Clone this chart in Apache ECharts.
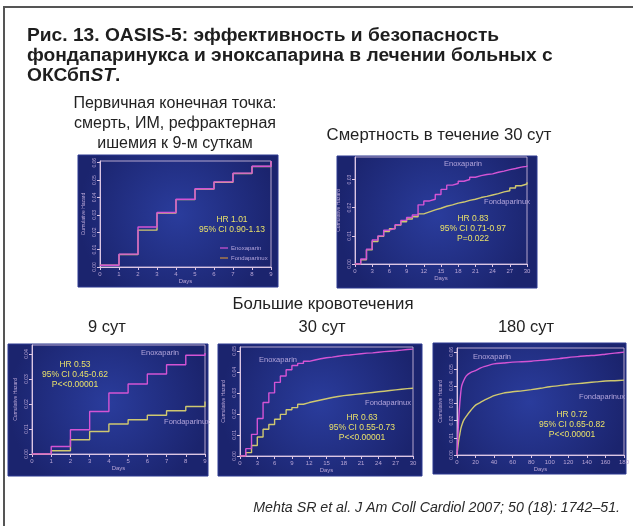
<!DOCTYPE html>
<html><head><meta charset="utf-8">
<script src="https://cdn.jsdelivr.net/npm/echarts@6/dist/echarts.min.js"></script>
<style>html,body{margin:0;padding:0;background:#fff}#c{width:633px;height:526px}</style>
</head><body><div id="c"></div>
<script>
// ---- data ----
const days9 = [0,1,2,3,4,5,6,7,8,9];
const days30 = [0,1,2,3,4,5,6,7,8,9,10,11,12,13,14,15,16,17,18,19,20,21,22,23,24,25,26,27,28,29,30];
const days180 = [0,1,2,3,4,5,7,10,15,20,25,30,40,50,60,70,80,90,100,110,120,130,140,150,160,170,180];

// Primary endpoint, 9 days
const p1Enox  = [0.001,0.0074,0.0230,0.0314,0.0390,0.0450,0.0490,0.0540,0.0580,0.0610];
const p1Fonda = [0.001,0.0072,0.0212,0.0310,0.0388,0.0448,0.0488,0.0538,0.0578,0.0608];
// Mortality, 30 days
const p2Enox  = [0,0.0018,0.0053,0.0085,0.0100,0.0120,0.0127,0.0140,0.0155,0.0165,0.0174,0.0210,0.0224,0.0230,0.0247,0.0265,0.0280,0.0286,0.0294,0.0300,0.0308,0.0314,0.0318,0.0320,0.0326,0.0330,0.0335,0.0339,0.0344,0.0347,0.0350];
const p2Fonda = [0,0.0015,0.0050,0.0080,0.0098,0.0115,0.0125,0.0138,0.0150,0.0160,0.0168,0.0178,0.0185,0.0192,0.0198,0.0205,0.0210,0.0216,0.0220,0.0226,0.0230,0.0236,0.0240,0.0245,0.0250,0.0256,0.0260,0.0270,0.0278,0.0284,0.0290];
// Major bleeding, 9 days
const p3Enox  = [0,0.0030,0.0097,0.0170,0.0244,0.0280,0.0320,0.0357,0.0395,0.0404];
const p3Fonda = [0,0.0013,0.0057,0.0090,0.0120,0.0137,0.0155,0.0173,0.0190,0.0210];
// Major bleeding, 30 days
const p4Enox  = [0,0.0035,0.0103,0.0178,0.0254,0.0300,0.0350,0.0380,0.0410,0.0430,0.0440,0.0450,0.0456,0.0462,0.0467,0.0470,0.0474,0.0478,0.0480,0.0483,0.0486,0.0489,0.0490,0.0493,0.0496,0.0498,0.0500,0.0503,0.0506,0.0508,0.0510];
const p4Fonda = [0,0.0016,0.0050,0.0090,0.0127,0.0150,0.0175,0.0198,0.0220,0.0230,0.0246,0.0254,0.0260,0.0266,0.0272,0.0278,0.0283,0.0287,0.0290,0.0293,0.0296,0.0299,0.0302,0.0305,0.0308,0.0311,0.0314,0.0317,0.0320,0.0322,0.0325];
// Major bleeding, 180 days
const p5Enox  = [0,0.012,0.022,0.030,0.036,0.040,0.043,0.046,0.048,0.049,0.0505,0.0515,0.053,0.0535,0.054,0.0542,0.0545,0.055,0.0555,0.056,0.0567,0.0572,0.0577,0.058,0.0586,0.0592,0.0598];
const p5Fonda = [0,0.005,0.009,0.012,0.015,0.017,0.020,0.0225,0.026,0.029,0.0305,0.032,0.0345,0.036,0.0368,0.0373,0.038,0.0388,0.0397,0.0403,0.041,0.0415,0.042,0.0425,0.043,0.0432,0.0435];

const titleLines = ['Рис. 13. OASIS-5: эффективность и безопасность','фондапаринукса и эноксапарина в лечении больных с'];
const sub1 = ['Первичная конечная точка:','смерть, ИМ, рефрактерная','ишемия к 9-м суткам'];
const sub2 = 'Смертность в течение 30 сут';
const sub3 = 'Большие кровотечения';
const periodLabels = ['9 сут','30 сут','180 сут'];
const citation = 'Mehta SR et al. J Am Coll Cardiol 2007; 50 (18): 1742–51.';
const enoxName = 'Enoxaparin', fondaName = 'Fondaparinux';
const hrTexts = [
  ['HR 1.01','95% CI 0.90-1.13'],
  ['HR 0.83','95% CI 0.71-0.97','P=0.022'],
  ['HR 0.53','95% CI 0.45-0.62','P<<0.00001'],
  ['HR 0.63','95% CI 0.55-0.73','P<<0.00001'],
  ['HR 0.72','95% CI 0.65-0.82','P<<0.00001']
];

// ---- styling ----
const FONT = '"Liberation Sans", Arial, sans-serif';
const ENOX_C = '#d454d4', FONDA_C = '#cfc870';
const AXIS_C = '#dcc6e4', LBL_C = '#b9a6d6', HR_C = '#e8e06a', NAME_C = '#b4a6dc';

const panels = [
  {rect:[78,155,200,132], grid:{left:100,top:161,width:171,height:106}, xMax:9,  xInt:1,  yMax:0.061, yInt:0.01, days:days9,  e:p1Enox, f:p1Fonda, step:'end'},
  {rect:[337,156,200,132], grid:{left:355,top:157,width:172,height:107}, xMax:30, xInt:3,  yMax:0.038, yInt:0.01, days:days30, e:p2Enox, f:p2Fonda, step:'end'},
  {rect:[8,344,200,132],   grid:{left:32,top:345,width:173,height:109},  xMax:9,  xInt:1,  yMax:0.0436,yInt:0.01, days:days9,  e:p3Enox, f:p3Fonda, step:'end'},
  {rect:[218,344,204,132], grid:{left:240,top:347,width:173,height:109}, xMax:30, xInt:3,  yMax:0.0518,yInt:0.01, days:days30, e:p4Enox, f:p4Fonda, step:'end'},
  {rect:[433,343,193,131], grid:{left:457,top:348,width:167,height:107}, xMax:180,xInt:20, yMax:0.0622,yInt:0.01, days:days180,e:p5Enox, f:p5Fonda, step:false}
];

const grids=[], xAxes=[], yAxes=[], series=[], graphics=[];
panels.forEach((p,i)=>{
  grids.push(Object.assign({show:true,borderColor:AXIS_C,borderWidth:0.8,backgroundColor:'transparent'},p.grid));
  xAxes.push({type:'value',gridIndex:i,min:0,max:p.xMax,interval:p.xInt,
    name:'Days',nameLocation:'middle',nameGap:11,nameTextStyle:{color:LBL_C,fontSize:6,fontFamily:FONT},
    axisLine:{show:true,lineStyle:{color:AXIS_C,width:1}},axisTick:{show:true,length:3,lineStyle:{color:AXIS_C}},
    axisLabel:{color:LBL_C,fontSize:6,margin:4,fontFamily:FONT},splitLine:{show:false}});
  yAxes.push({type:'value',gridIndex:i,min:0,max:p.yMax,interval:p.yInt,
    name:'Cumulative Hazard',nameLocation:'middle',nameGap:14,nameTextStyle:{color:LBL_C,fontSize:5,fontFamily:FONT},
    axisLine:{show:true,lineStyle:{color:AXIS_C,width:1}},axisTick:{show:true,length:3,lineStyle:{color:AXIS_C}},
    axisLabel:{color:LBL_C,fontSize:5,margin:3,rotate:90,showMaxLabel:false,fontFamily:FONT,formatter:v=>v.toFixed(2)},splitLine:{show:false}});
  const mk = arr => p.days.map((d,k)=>[d,arr[k]]);
  series.push({type:'line',xAxisIndex:i,yAxisIndex:i,name:fondaName,data:mk(p.f),step:p.step,smooth:p.step?false:0.3,showSymbol:false,lineStyle:{color:FONDA_C,width:1.4},z:3});
  series.push({type:'line',xAxisIndex:i,yAxisIndex:i,name:enoxName,data:mk(p.e),step:p.step,smooth:p.step?false:0.3,showSymbol:false,lineStyle:{color:ENOX_C,width:1.4},z:4});
  graphics.push({type:'rect',z:-10,shape:{x:p.rect[0],y:p.rect[1],width:p.rect[2],height:p.rect[3]},
    style:{fill:{type:'radial',x:0.5,y:0.45,r:0.75,colorStops:[{offset:0,color:'#2a3c9c'},{offset:1,color:'#1b246e'}]},stroke:'#2c3890',lineWidth:1}});
});

function txt(x,y,s,opt){
  return {type:'text',z:100,x:x,y:y,style:Object.assign({text:s,fontFamily:FONT,fill:'#222',align:'center',verticalAlign:'middle'},opt||{})};
}
// border frame
graphics.push({type:'polyline',z:50,shape:{points:[[4,526],[4,7],[633,7]]},style:{stroke:'#555',lineWidth:2,fill:null}});
// title
const TS = 19.2;
graphics.push(txt(27,36,titleLines[0],{align:'left',fontSize:TS,fontWeight:'bold',fill:'#1e1e1e'}));
graphics.push(txt(27,56,titleLines[1],{align:'left',fontSize:TS,fontWeight:'bold',fill:'#1e1e1e'}));
graphics.push({type:'text',z:100,x:27,y:76,style:{rich:{a:{fontSize:TS,fontWeight:'bold',fontFamily:FONT,fill:'#1e1e1e'},b:{fontSize:TS,fontWeight:'bold',fontStyle:'italic',fontFamily:FONT,fill:'#1e1e1e'}},text:'{a|ОКСбп}{b|ST}{a|.}',verticalAlign:'middle'}});
// subtitles
sub1.forEach((s,k)=>graphics.push(txt(175,104+k*20,s,{fontSize:16,fill:'#222'})));
graphics.push(txt(439,135,sub2,{fontSize:16.7,fill:'#222'}));
graphics.push(txt(323,304,sub3,{fontSize:16.8,fill:'#222'}));
[[107,327],[322,327],[526,327]].forEach((c,k)=>graphics.push(txt(c[0],c[1],periodLabels[k],{fontSize:16.5,fill:'#222'})));
graphics.push(txt(620,508,citation,{align:'right',fontSize:14.2,fontStyle:'italic',fill:'#2a2a2a'}));

// in-panel texts
const hrPos = [[232,220],[473,219],[75,365],[362,418],[572,415]];
hrPos.forEach((c,k)=>hrTexts[k].forEach((s,j)=>graphics.push(txt(c[0],c[1]+j*9.7,s,{fontSize:8.5,fill:HR_C}))));
const namePos = [
  null,
  [[463,164],[507,202]],
  [[160,353],[187,422]],
  [[278,360],[388,403]],
  [[492,357],[602,397]]
];
namePos.forEach(np=>{ if(!np) return;
  graphics.push(txt(np[0][0],np[0][1],enoxName,{fontSize:7.5,fill:NAME_C}));
  graphics.push(txt(np[1][0],np[1][1],fondaName,{fontSize:7.5,fill:NAME_C}));
});
// panel 1 legend
graphics.push({type:'line',z:100,shape:{x1:220,y1:248,x2:228,y2:248},style:{stroke:ENOX_C,lineWidth:1.2}});
graphics.push({type:'line',z:100,shape:{x1:220,y1:258,x2:228,y2:258},style:{stroke:'#c88a3c',lineWidth:1.2}});
graphics.push(txt(231,248,enoxName,{align:'left',fontSize:6,fill:NAME_C}));
graphics.push(txt(231,258,fondaName,{align:'left',fontSize:6,fill:NAME_C}));

const chart = echarts.init(document.getElementById('c'),null,{renderer:'canvas'});
chart.setOption({animation:false,backgroundColor:'#ffffff',grid:grids,xAxis:xAxes,yAxis:yAxes,series:series,graphic:graphics});
</script></body></html>
